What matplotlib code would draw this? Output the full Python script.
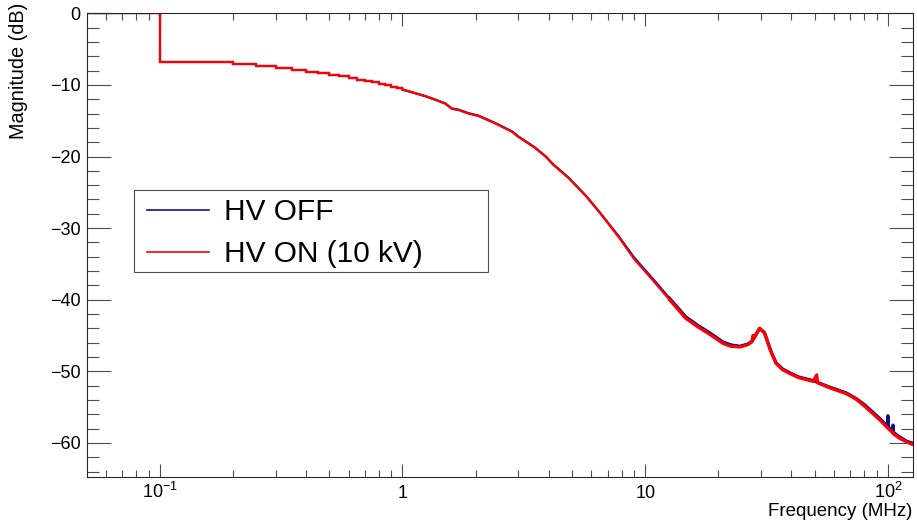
import matplotlib
matplotlib.use("Agg")
import matplotlib.pyplot as plt
from matplotlib.lines import Line2D
from matplotlib.patches import Rectangle
from matplotlib.ticker import FixedLocator, FixedFormatter, NullFormatter

# ---------------- data ----------------
# low-frequency histogram-like part: bin lower edges (MHz) and values (dB)
step_edges = [0.05, 0.10, 0.15, 0.20, 0.25, 0.30, 0.35, 0.40, 0.45, 0.50,
              0.55, 0.60, 0.65, 0.70, 0.75, 0.80, 0.85, 0.90, 0.95, 1.00]
step_vals = [0.0, -6.85, -6.75, -7.05, -7.35, -7.65, -7.95, -8.2, -8.4, -8.6,
             -8.8, -9.0, -9.25, -9.45, -9.65, -9.85, -10.05, -10.25, -10.45]

# continuous part (MHz)
freq_curve = [1.0, 1.1, 1.25, 1.4, 1.5, 1.6, 1.7, 1.87, 2.06, 2.4, 2.83, 3.0,
              3.5, 3.9, 4.15, 4.85, 5.7, 6.5, 7.8, 9.0, 10.7, 12.6, 14.7,
              16.5, 18.4, 20.9, 22.5, 24.5, 26.4, 27.5, 27.8, 28.2, 29.6,
              31.0, 32.9, 34.6, 36.9, 39.4, 43.0, 49.2, 50.9, 51.3, 57.5,
              67.2, 74.0, 80.3, 92.7, 99.6, 100.0, 100.4, 102.0, 104.6,
              104.9, 105.2, 111.0, 120.0, 126.0]
mag_off = [-10.65, -11.05, -11.6, -12.2, -12.6, -13.3, -13.45, -13.95, -14.3,
           -15.3, -16.5, -17.2, -18.7, -20.0, -21.0, -23.0, -25.5, -27.8,
           -31.2, -34.1, -37.0, -39.8, -42.4, -43.6, -44.6, -45.9, -46.3,
           -46.5, -46.2, -45.8, -45.6, -45.2, -44.0, -44.6, -47.1, -48.8,
           -49.7, -50.2, -50.8, -51.3, -51.5, -51.55, -52.2, -53.0, -53.8,
           -54.7, -56.6, -57.7, -56.2, -57.8, -58.0, -58.4, -57.5, -58.5,
           -59.1, -59.8, -60.0]
mag_on = [-10.65, -11.05, -11.6, -12.2, -12.6, -13.35, -13.5, -14.0, -14.35,
          -15.35, -16.55, -17.25, -18.75, -20.05, -21.05, -23.05, -25.5, -27.85,
          -31.3, -34.3, -37.2, -40.0, -42.6, -43.8, -44.8, -46.1, -46.5,
          -46.6, -46.3, -45.9, -45.0, -45.3, -44.0, -44.6, -47.2, -48.9,
          -49.8, -50.3, -50.9, -51.4, -50.5, -51.6, -52.3, -53.1, -53.9,
          -54.9, -56.8, -57.9, -57.9, -58.0, -58.2, -58.6, -58.5, -58.7,
          -59.3, -59.9, -60.2]

x_major = [0.1, 1, 10, 100]
x_major_labels = [r"$10^{-1}$", "1", "10", r"$10^{2}$"]
x_minor = [0.06, 0.07, 0.08, 0.09, 0.2, 0.3, 0.4, 0.5, 0.6, 0.7, 0.8, 0.9,
           2, 3, 4, 5, 6, 7, 8, 9, 20, 30, 40, 50, 60, 70, 80, 90]
y_major = [0, -10, -20, -30, -40, -50, -60]
y_major_labels = ["0", "\u221210", "\u221220", "\u221230", "\u221240", "\u221250", "\u221260"]
y_minor = [-2, -4, -6, -8, -12, -14, -16, -18, -22, -24, -26, -28, -32, -34,
           -36, -38, -42, -44, -46, -48, -52, -54, -56, -58, -62, -64]

series_labels = ["HV OFF", "HV ON (10 kV)"]
x_title = "Frequency (MHz)"
y_title = "Magnitude (dB)"

# ---------------- style ----------------
plt.rcParams["font.family"] = ["Liberation Sans", "DejaVu Sans"]
plt.rcParams["mathtext.fontset"] = "custom"
plt.rcParams["mathtext.rm"] = "Liberation Sans"
plt.rcParams["mathtext.it"] = "Liberation Sans:italic"
plt.rcParams["mathtext.bf"] = "Liberation Sans:bold"
plt.rcParams["mathtext.default"] = "regular"

W, H = 917, 527
fig = plt.figure(figsize=(W / 100, H / 100), dpi=100)
L, R, T, B = 86.7, 912.7, 13.3, 477.3
ax = fig.add_axes([L / W, 1 - B / H, (R - L) / W, (B - T) / H])

blue = "#10108c"
red = "#ff0000"
lw = 1.6

noisy_start = 21  # index in freq_curve from which the trace looks noisier/thicker
for mags, col in ((mag_off, blue), (mag_on, red)):
    ax.plot(step_edges, step_vals + [step_vals[-1]], drawstyle="steps-post",
            color=col, lw=lw, solid_joinstyle="miter")
    ax.plot(freq_curve, mags, color=col, lw=lw)
    ax.plot(freq_curve[noisy_start:], mags[noisy_start:], color=col, lw=2.3)

ax.set_xscale("log")
ax.set_xlim(0.05, 126.5)
ax.set_ylim(-64.8, 0)

ax.xaxis.set_major_locator(FixedLocator(x_major))
ax.xaxis.set_major_formatter(FixedFormatter(x_major_labels))
ax.xaxis.set_minor_locator(FixedLocator(x_minor))
ax.xaxis.set_minor_formatter(NullFormatter())
ax.yaxis.set_major_locator(FixedLocator(y_major))
ax.yaxis.set_major_formatter(FixedFormatter(y_major_labels))
ax.yaxis.set_minor_locator(FixedLocator(y_minor))
ax.yaxis.set_minor_formatter(NullFormatter())

tc = "0.3"
ax.tick_params(axis="x", which="major", direction="in", length=9.7, width=0.8,
               color=tc, top=True, bottom=True, labelsize=13, pad=15.1)
ax.tick_params(axis="x", which="minor", direction="in", length=5, width=0.8,
               color=tc, top=True, bottom=True)
ax.tick_params(axis="y", which="major", direction="in", length=17.3, width=0.8,
               color=tc, left=True, right=True, labelsize=13, pad=4.3)
ax.tick_params(axis="y", which="minor", direction="in", length=8.6, width=0.8,
               color=tc, left=True, right=True)
for t in ax.xaxis.get_major_ticks():
    t.label1.set_va("baseline")
for s in ax.spines.values():
    s.set_linewidth(0.8)
    s.set_color("0.15")

# axis titles (ROOT-like placement)
fig.text(912 / W, 1 - 511 / H, x_title, ha="right", va="center", fontsize=13.5)
fig.text(19 / W, 1 - 3 / H, y_title, ha="center", va="top", rotation=90,
         fontsize=14.3)

# legend
handles = [Line2D([], [], color=blue, lw=1.2), Line2D([], [], color=red, lw=1.2)]
leg = ax.legend(handles, series_labels, loc="upper left",
                bbox_to_anchor=((147 - L) / (R - L), (B - 198) / (B - T)),
                frameon=False, borderpad=0, borderaxespad=0, fontsize=21.5,
                handlelength=2.08, handletextpad=0.5, labelspacing=0.47)
ax.add_patch(Rectangle(((134 - L) / (R - L), (B - 272) / (B - T)),
                       (488 - 134) / (R - L), (272 - 190) / (B - T),
                       transform=ax.transAxes, fill=False, lw=0.8,
                       edgecolor="0.3", zorder=5))

fig.savefig("out.png", dpi=100)
